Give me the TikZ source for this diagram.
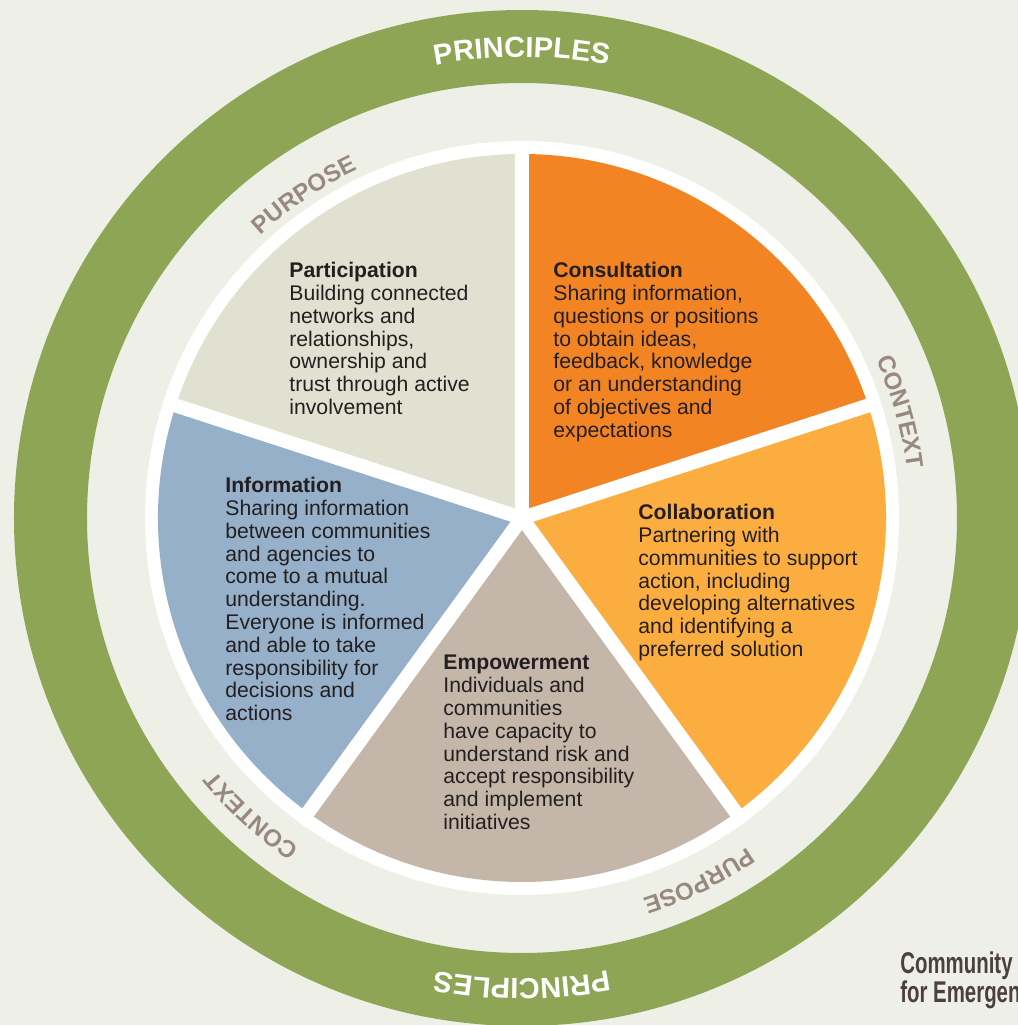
\documentclass[tikz,border=0pt]{standalone}
\usepackage{fontspec}
\setmainfont{Liberation Sans}
\newfontfamily\condfont[FakeStretch=0.68]{Liberation Sans}
\usetikzlibrary{decorations.text}
\definecolor{Backdrop}{RGB}{238,239,230}
\definecolor{Ring}{RGB}{141,165,85}
\definecolor{Participation}{RGB}{224,225,208}
\definecolor{Consultation}{RGB}{243,132,35}
\definecolor{Collaboration}{RGB}{251,174,63}
\definecolor{Empowerment}{RGB}{196,183,169}
\definecolor{Information}{RGB}{149,176,200}
\definecolor{Label}{RGB}{152,137,126}
\definecolor{Ink}{RGB}{35,31,32}
\definecolor{Title}{RGB}{75,64,64}
\newcommand{\bodyfont}{\fontsize{10.6}{11.4}\selectfont}
\newcommand{\ringfont}{\fontsize{14.5}{16}\selectfont\bfseries}
\newcommand{\labelfont}{\fontsize{12}{14}\selectfont\bfseries}
\newcommand{\titlefont}{\condfont\bfseries\fontsize{15}{14.5}\selectfont}
% text on an arc: radius, angle, colour, font, text
\newcommand{\ringlabel}[5]{
    \path[decorate, decoration={text along path, text align=center, text color=#3, text={|#4|#5}}]
        (#2+40:#1) arc[start angle=#2+40, end angle=#2-40, radius=#1];
}
\tikzset{
    sectortext/.style={anchor=north west, inner sep=0pt, align=left, font=\bodyfont, text=Ink}
}

\begin{document}
\begin{tikzpicture}[x=0.5pt,y=0.5pt]
        % Define the sizes of the rings
        \def\ringout{508}
        \def\ringin{435}
        \def\diskr{377}
        \def\secr{364}

        \useasboundingbox (-522,-507) rectangle (496,518);
        \fill[Backdrop] (-522,-507) rectangle (496,518);

        % Draw the principles ring
        \fill[Ring, even odd rule] (0,0) circle (\ringout) (0,0) circle (\ringin);

        % Draw the wheel and its five sectors
        \fill[white] (0,0) circle (\diskr);
        \foreach \a/\c in {90/Participation, 18/Consultation, -54/Collaboration, -126/Empowerment, 162/Information} {
            \fill[\c] (0,0) -- (\a:\secr) arc[start angle=\a, delta angle=72, radius=\secr] -- cycle;
        }
        \foreach \a in {90, 18, -54, -126, 162} {
            \draw[white, line width=7pt] (0,0) -- (\a:\diskr);
        }

        % Add the labels round the rings
        \ringlabel{461}{90}{white}{\ringfont}{PRINCIPLES}
        \ringlabel{461}{-90}{white}{\ringfont}{PRINCIPLES}
        \ringlabel{385}{124}{Label}{\labelfont}{PURPOSE}
        \ringlabel{399}{-64}{Label}{\labelfont}{PURPOSE}
        \ringlabel{388}{15.7}{Label}{\labelfont}{CONTEXT}
        \ringlabel{397}{227.7}{Label}{\labelfont}{CONTEXT}

        % Add the text of each sector
        \node[sectortext] (participation) at (-233,256) {\textbf{Participation}\\Building connected\\networks and\\relationships,\\ownership and\\trust through active\\involvement};
        \node[sectortext] (consultation) at (31,256) {\textbf{Consultation}\\Sharing information,\\questions or positions\\to obtain ideas,\\feedback, knowledge\\or an understanding\\of objectives and\\expectations};
        \node[sectortext] (collaboration) at (116,14) {\textbf{Collaboration}\\Partnering with\\communities to support\\action, including\\developing alternatives\\and identifying a\\preferred solution};
        \node[sectortext] (information) at (-297,41) {\textbf{Information}\\Sharing information\\between communities\\and agencies to\\come to a mutual\\understanding.\\Everyone is informed\\and able to take\\responsibility for\\decisions and\\actions};
        \node[sectortext] (empowerment) at (-79,-137) {\textbf{Empowerment}\\Individuals and\\communities\\have capacity to\\understand risk and\\accept responsibility\\and implement\\initiatives};

        % Add the title in the corner
        \node[anchor=north west, inner sep=0pt, align=left, font=\titlefont, text=Title] (title) at (378,-433) {Community E\\for Emergen};
    \end{tikzpicture}
\end{document}
